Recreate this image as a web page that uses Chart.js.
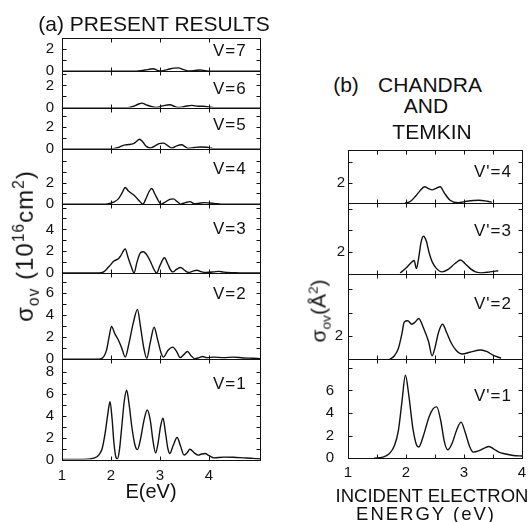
<!DOCTYPE html>
<html><head><meta charset="utf-8">
<script src="https://cdn.jsdelivr.net/npm/chart.js@4.4.1/dist/chart.umd.min.js"></script>
<style>
html,body{margin:0;padding:0;background:#fff;}
body{width:531px;height:522px;position:relative;overflow:hidden;font-family:"Liberation Sans",Arial,sans-serif;color:#111;}
.t{position:absolute;white-space:nowrap;transform:translate(-50%,-50%);line-height:1;}
.lab{position:absolute;white-space:nowrap;transform:translateY(-50%);font-size:17px;letter-spacing:1px;line-height:1;}
.rot{position:absolute;white-space:nowrap;transform:translate(-50%,-50%) rotate(-90deg);line-height:1;}
.rot sub,.rot sup{font-size:65%;}
#wa{position:absolute;left:0;top:30px;width:275px;height:460px;}
#wb{position:absolute;left:290px;top:140px;width:240px;height:345px;}
</style></head>
<body>
<div id="wa"><canvas id="ca"></canvas></div>
<div id="wb"><canvas id="cb"></canvas></div>

<div class="t" style="left:154px;top:23px;font-size:21px;">(a) PRESENT RESULTS</div>
<div class="t" style="left:346px;top:84px;font-size:21px;">(b)</div>
<div class="t" style="left:430px;top:84px;font-size:21px;">CHANDRA</div>
<div class="t" style="left:426px;top:105px;font-size:21px;">AND</div>
<div class="t" style="left:432px;top:131px;font-size:21px;">TEMKIN</div>

<div class="lab" style="left:213px;top:50px;">V=7</div>
<div class="lab" style="left:213px;top:88px;">V=6</div>
<div class="lab" style="left:213px;top:124px;">V=5</div>
<div class="lab" style="left:213px;top:168px;">V=4</div>
<div class="lab" style="left:213px;top:228px;">V=3</div>
<div class="lab" style="left:213px;top:293px;">V=2</div>
<div class="lab" style="left:213px;top:383px;">V=1</div>

<div class="lab" style="left:474px;top:171px;">V'=4</div>
<div class="lab" style="left:474px;top:230px;">V'=3</div>
<div class="lab" style="left:474px;top:303px;">V'=2</div>
<div class="lab" style="left:474px;top:395px;">V'=1</div>

<div class="rot" style="left:26px;top:246px;font-size:24px;letter-spacing:1px;">σ<sub>ov</sub> (10<sup>16</sup>cm<sup>2</sup>)</div>
<div class="rot" style="left:320px;top:311px;font-size:21px;">σ<sub>ov</sub>(Å<sup>2</sup>)</div>

<div class="t" style="left:151px;top:491px;font-size:20px;">E(eV)</div>
<div class="t" style="left:432px;top:496px;font-size:18.5px;">INCIDENT ELECTRON</div>
<div class="t" style="left:426px;top:514px;font-size:18.5px;letter-spacing:2px;">ENERGY (eV)</div>

<script>
// ---------- DATA: panel (a) present results, sigma in 1e-16 cm^2 ----------
const v1E = [1.0,1.3,1.5,1.65,1.75,1.82,1.88,1.93,1.98,2.02,2.06,2.1,2.13,2.17,2.22,2.27,2.32,2.37,2.43,2.49,2.54,2.6,2.67,2.74,2.8,2.86,2.91,2.96,3.01,3.06,3.11,3.16,3.2,3.27,3.35,3.42,3.49,3.55,3.61,3.7,3.78,3.85,3.92,4.0,4.1,4.3,4.5,4.7,4.9,5.04];
const v1S = [0,0.01,0.03,0.12,0.4,1.0,2.4,4.0,5.25,3.8,1.5,0.2,0.05,0.8,3.0,5.3,6.3,5.0,2.8,1.3,0.9,1.8,3.5,4.5,3.6,1.6,0.6,1.5,3.0,3.75,2.5,1.0,0.55,1.3,2.0,1.2,0.4,0.6,0.93,0.6,0.4,0.5,0.55,0.35,0.15,0.22,0.2,0.15,0.1,0.05];
const v2E = [1.0,1.7,1.8,1.86,1.91,1.96,2.01,2.08,2.15,2.22,2.29,2.36,2.45,2.54,2.6,2.67,2.73,2.8,2.88,2.95,3.02,3.07,3.16,3.26,3.34,3.41,3.48,3.56,3.64,3.71,3.8,3.87,3.95,4.1,4.3,4.5,4.7,4.9,5.04];
const v2S = [0,0,0.05,0.3,0.85,2.0,2.97,2.3,1.75,1.0,0.2,1.3,3.2,4.5,3.0,1.0,0.1,1.5,2.9,1.8,0.6,0.2,0.8,1.1,0.7,0.15,0.4,0.7,0.3,0.05,0.15,0.25,0.15,0.2,0.15,0.2,0.12,0.1,0.05];
const v3E = [1.0,1.75,1.85,1.93,1.98,2.06,2.15,2.2,2.29,2.35,2.42,2.47,2.53,2.6,2.66,2.74,2.82,2.88,2.93,3.0,3.09,3.16,3.22,3.26,3.34,3.42,3.5,3.58,3.66,3.75,3.85,3.95,4.1,4.2,4.3,4.5,4.7,5.04];
const v3S = [0,0,0.1,0.45,0.7,1.1,1.3,1.6,2.2,1.4,0.5,0,1.0,1.85,1.95,1.6,0.9,0.3,0,0.7,1.4,0.8,0.25,0.1,0.35,0.5,0.25,0.05,0.15,0.25,0.1,0.05,0.1,0.15,0.08,0.03,0,0];
const v4E = [1.0,1.85,1.95,2.05,2.15,2.22,2.29,2.35,2.42,2.5,2.58,2.65,2.72,2.78,2.83,2.9,2.97,3.02,3.12,3.2,3.27,3.35,3.42,3.52,3.61,3.7,3.8,3.9,4.0,4.1,4.3,5.04];
const v4S = [0,0,0.05,0.2,0.5,1.0,1.55,1.25,1.0,0.7,0.3,0.02,0.6,1.2,1.45,0.9,0.3,0.02,0.25,0.45,0.5,0.25,0.02,0.15,0.25,0.05,0.1,0.15,0.12,0.08,0,0];
const v5E = [1.0,2.05,2.15,2.25,2.32,2.4,2.46,2.52,2.58,2.65,2.72,2.8,2.9,2.98,3.07,3.15,3.24,3.34,3.44,3.52,3.57,3.7,3.82,3.96,4.05,4.1,5.04];
const v5S = [0,0,0.1,0.3,0.35,0.4,0.45,0.65,0.85,0.6,0.2,0.05,0.25,0.45,0.5,0.3,0.05,0.25,0.35,0.15,0.02,0.1,0.15,0.12,0.03,0,0];
const v6E = [1.0,2.35,2.45,2.55,2.63,2.72,2.82,2.93,3.05,3.2,3.3,3.37,3.5,3.65,3.78,3.88,4.0,4.1,5.04];
const v6S = [0,0,0.1,0.3,0.4,0.25,0.1,0.02,0.15,0.25,0.1,0.02,0.1,0.2,0.12,0.12,0.05,0,0];
const v7E = [1.0,2.45,2.6,2.75,2.86,2.95,3.0,3.15,3.28,3.37,3.48,3.6,3.72,3.82,3.92,4.02,5.04];
const v7S = [0,0,0.05,0.15,0.22,0.08,0.02,0.15,0.28,0.3,0.15,0.02,0.08,0.12,0.06,0,0];

// ---------- DATA: panel (b) Chandra and Temkin, sigma in A^2 ----------
const w1E = [1.45,1.6,1.7,1.8,1.87,1.93,1.99,2.05,2.12,2.18,2.22,2.3,2.4,2.47,2.53,2.6,2.66,2.72,2.8,2.88,2.95,3.02,3.1,3.16,3.25,3.35,3.43,3.52,3.6,3.7,3.85,4.0];
const w1S = [0,0.1,0.35,1.1,2.5,5.0,7.35,5.5,2.6,1.2,1.0,2.0,3.7,4.4,4.55,3.3,1.5,0.75,1.4,2.6,3.2,2.3,1.0,0.55,0.65,0.9,1.05,0.8,0.55,0.4,0.25,0.2];
const w2E = [1.72,1.8,1.87,1.93,1.97,2.03,2.1,2.16,2.22,2.3,2.39,2.45,2.5,2.56,2.63,2.7,2.78,2.86,2.97,3.1,3.29,3.4,3.5,3.64];
const w2S = [0,0.3,0.95,2.2,3.2,3.3,3.0,3.2,3.5,2.7,1.5,0.3,1.0,2.3,3.0,2.3,1.4,0.8,0.45,0.6,0.8,0.65,0.35,0.1];
const w3E = [1.9,2.0,2.08,2.14,2.18,2.22,2.26,2.3,2.35,2.4,2.45,2.52,2.62,2.72,2.85,2.94,3.02,3.12,3.2,3.3,3.45,3.59];
const w3S = [0.05,0.5,0.95,1.2,0.45,1.5,2.9,3.45,3.0,1.9,1.1,0.5,0.15,0.35,0.95,1.25,0.9,0.4,0.15,0.05,0.15,0.25];
const w4E = [1.98,2.08,2.16,2.24,2.32,2.38,2.45,2.52,2.59,2.66,2.76,2.9,3.05,3.25,3.4,3.48];
const w4S = [0,0.2,0.65,1.2,1.6,1.45,1.3,1.45,1.6,1.0,0.3,0.05,0.2,0.3,0.2,0.1];

// ---------- TICK LABELS ----------
const xLabelsA = [1,2,3,4];
const xMarksA  = [2,3,4];
const xLabelsB = [1,2,3,4];
const xMarksB  = [1.5,2,2.5,3,3.5];
const yLab7 = [0,2], yLab6 = [0,2], yLab5 = [0,2], yLab4 = [0,2];
const yLab3 = [0,2,4], yLab2 = [0,2,4,6], yLab1 = [0,2,4,6,8];
const yLabB4 = [2], yLabB3 = [2], yLabB2 = [2], yLabB1 = [0,2,4,6];

// ---------- CONFIG ----------
const FONT = '"Liberation Sans", Arial, sans-serif';
const INK = '#111';

const subsA = [ // top to bottom
  {id:'y7', E:v7E, S:v7S, labels:yLab7, max:2.95, h:33.3, step:1, pad:8},
  {id:'y6', E:v6E, S:v6S, labels:yLab6, max:3.27, h:36.3, step:1, pad:8},
  {id:'y5', E:v5E, S:v5S, labels:yLab5, max:3.73, h:41.0, step:1, pad:8},
  {id:'y4', E:v4E, S:v4S, labels:yLab4, max:5.12, h:55.7, step:1, pad:8},
  {id:'y3', E:v3E, S:v3S, labels:yLab3, max:6.3,  h:68.7, step:1, pad:8},
  {id:'y2', E:v2E, S:v2S, labels:yLab2, max:7.8,  h:86.3, step:1, pad:8},
  {id:'y1', E:v1E, S:v1S, labels:yLab1, max:9.12, h:100.2, step:1, pad:8}
];
const subsB = [
  {id:'y4', E:w4E, S:w4S, labels:yLabB4, max:5.15, h:53.3, step:2, pad:3},
  {id:'y3', E:w3E, S:w3S, labels:yLabB3, max:6.5,  h:70.2, step:2, pad:3},
  {id:'y2', E:w2E, S:w2S, labels:yLabB2, max:7.35, h:85.8, step:2, pad:5},
  {id:'y1', E:w1E, S:w1S, labels:yLabB1, max:8.76, h:99.0, step:2, pad:14}
];

function buildPanel(canvasId, subs, xMin, xMax, xLabels, xMarks, lay) {
  const scales = {
    x: {
      type:'linear', position:'bottom', min:xMin, max:xMax,
      grid:{display:false, drawTicks:false}, border:{display:false},
      ticks:{padding:lay.xPad, font:{family:FONT, size:15}, color:INK, autoSkip:false, maxRotation:0},
      afterBuildTicks: s => { s.ticks = xLabels.map(v => ({value:v})); },
      afterFit: s => { s.height = lay.xH; s.paddingLeft = 0; s.paddingRight = 0; }
    }
  };
  const datasets = [];
  subs.forEach((p, i) => {
    scales[p.id] = {
      type:'linear', position:'left', stack:'s', stackWeight:p.h, weight:subs.length - i,
      min:0, max:p.max,
      grid:{display:false, drawTicks:false}, border:{display:false},
      ticks:{padding:p.pad, font:{family:FONT, size:15}, color:INK, autoSkip:false},
      afterBuildTicks: s => { s.ticks = p.labels.map(v => ({value:v})); },
      afterFit: s => { s.width = lay.yW; s.paddingTop = 0; s.paddingBottom = 0; }
    };
    datasets.push({
      data: p.E.map((e, k) => ({x:e, y:p.S[k]})),
      xAxisID:'x', yAxisID:p.id,
      borderColor:INK, borderWidth:1.4, pointRadius:0,
      cubicInterpolationMode:'monotone', fill:false
    });
  });
  const snap = v => Math.round(v) + 0.5;
  const framePlugin = {
    id:'frames',
    afterDatasetsDraw(chart) {
      const ctx = chart.ctx;
      const L = snap(chart.chartArea.left), R = snap(chart.chartArea.right);
      const xs = chart.scales.x;
      const T = 4;
      ctx.save();
      ctx.strokeStyle = INK;
      ctx.lineWidth = 1;
      subs.forEach(p => {
        const ys = chart.scales[p.id];
        const top = snap(ys.top), bot = snap(ys.bottom);
        ctx.strokeRect(L, top, R - L, bot - top);
        ctx.beginPath();
        xMarks.forEach(v => {
          const px = snap(xs.getPixelForValue(v));
          ctx.moveTo(px, top); ctx.lineTo(px, top + T);
          ctx.moveTo(px, bot); ctx.lineTo(px, bot - T);
        });
        for (let v = p.step; v < p.max - 0.2; v += p.step) {
          const py = snap(ys.getPixelForValue(v));
          ctx.moveTo(L, py); ctx.lineTo(L + T, py);
          ctx.moveTo(R, py); ctx.lineTo(R - T, py);
        }
        ctx.stroke();
      });
      ctx.restore();
    }
  };
  return new Chart(document.getElementById(canvasId), {
    type:'line',
    data:{datasets},
    options:{
      responsive:true, maintainAspectRatio:false, animation:false,
      layout:{padding:lay.padding},
      plugins:{legend:{display:false}, title:{display:false}, tooltip:{enabled:false}},
      scales
    },
    plugins:[framePlugin]
  });
}

buildPanel('ca', subsA, 1, 5.04, xLabelsA, xMarksA,
  {padding:{top:8, right:15, bottom:0, left:0}, yW:62, xH:30.5, xPad:7});
buildPanel('cb', subsB, 1, 4, xLabelsB, xMarksB,
  {padding:{top:10, right:8, bottom:0, left:0}, yW:58, xH:26.7, xPad:6});
</script>
</body></html>
